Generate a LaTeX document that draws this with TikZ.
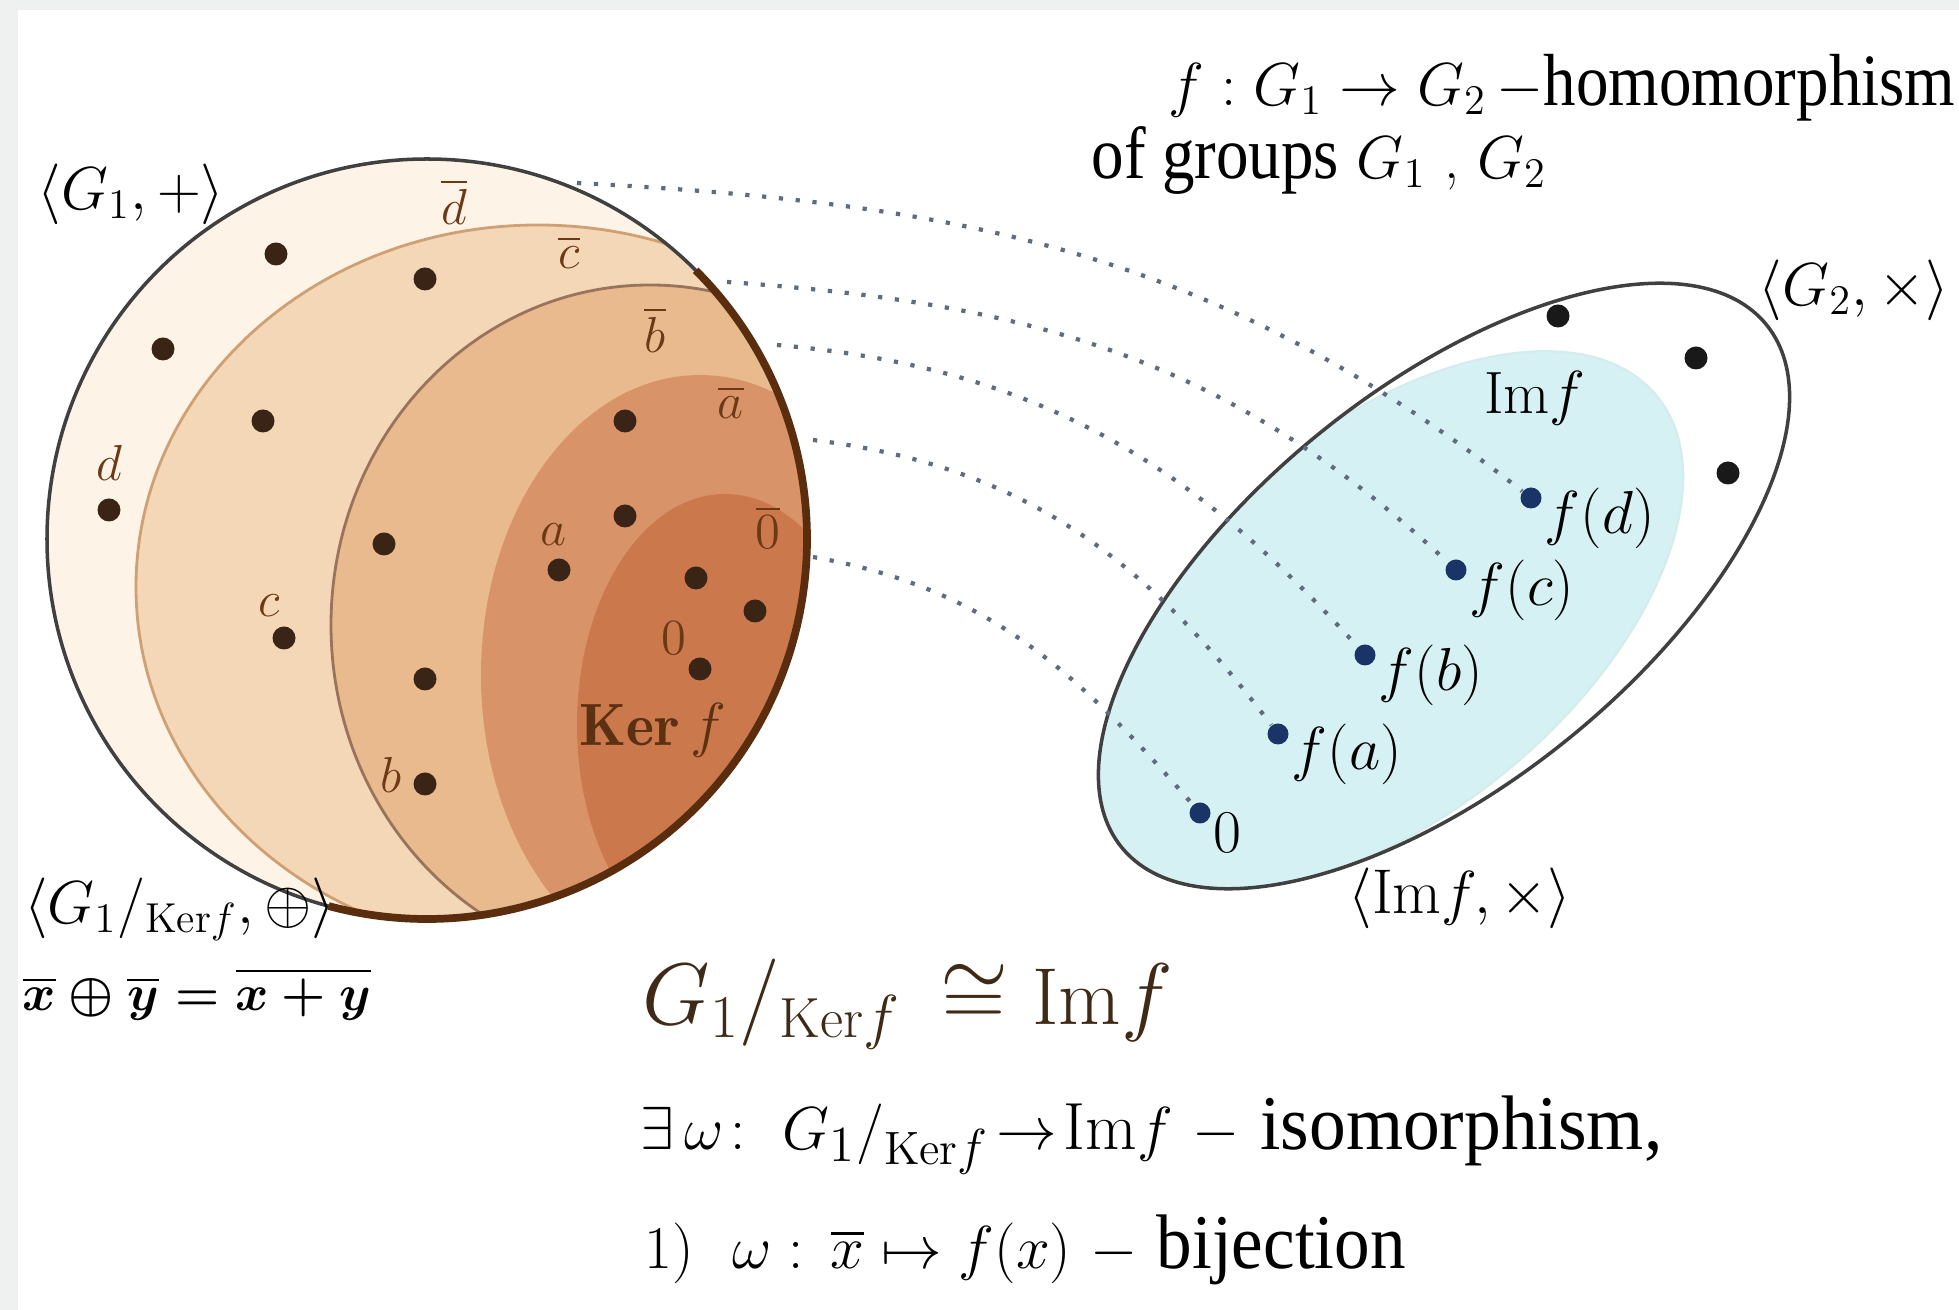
\documentclass[tikz,border=0pt]{standalone}
\usepackage{fontspec}
\usepackage{amsmath,amssymb}
\usepackage{graphicx}
\usetikzlibrary{positioning, calc}
\newfontfamily\timesfont{Liberation Serif}

\definecolor{GrpFrame}{RGB}{239,241,241}
\definecolor{GrpCream}{RGB}{253,243,230}
\definecolor{GrpPeach}{RGB}{244,215,182}
\definecolor{GrpTan}{RGB}{233,186,141}
\definecolor{GrpRust}{RGB}{216,148,104}
\definecolor{GrpKer}{RGB}{203,121,76}
\definecolor{GrpBrown}{RGB}{108,56,22}
\definecolor{GrpEdge}{RGB}{90,45,15}
\definecolor{GrpDot}{RGB}{58,36,22}
\definecolor{GrpCyan}{RGB}{214,241,244}
\definecolor{GrpNavy}{RGB}{26,52,104}
\definecolor{GrpLine}{RGB}{95,108,125}
\definecolor{GrpTitle}{RGB}{62,42,22}

\tikzset{
  gdot/.style={circle, fill=GrpDot, inner sep=0pt, minimum size=2.3mm},
  idot/.style={circle, fill=GrpNavy, inner sep=0pt, minimum size=2.1mm},
  kdot/.style={circle, fill=black!90, inner sep=0pt, minimum size=2.3mm},
  glab/.style={font=\fontsize{15}{15}\selectfont, text=GrpBrown, inner sep=1pt},
  ilab/.style={font=\fontsize{17}{17}\selectfont, inner sep=0pt, anchor=west,
               xshift=0.02cm, yshift=-0.2cm},
  setlab/.style={font=\fontsize{17}{19}\selectfont, inner sep=1pt},
  mapline/.style={GrpLine, line width=1.2pt, dash pattern=on 1.2pt off 3.6pt},
}

\begin{document}
\begin{tikzpicture}
  \useasboundingbox (0,0) rectangle (19.59,13.10);
  % ---- frame ----
  \fill[GrpFrame] (0,0) rectangle (19.59,13.10);
  \fill[white] (0.18,0) rectangle (19.59,13.00);

  % ---- G1 and its cosets ----
  \coordinate (G1c) at (4.27,7.71);
  \fill[GrpCream] (G1c) circle (3.80);
  \begin{scope}
    \clip (G1c) circle (3.80);
    \fill[GrpPeach] (5.38,7.23) ellipse (4.02 and 3.62);
    \draw[GrpTan!80!GrpBrown, line width=0.8pt] (5.38,7.23) ellipse (4.02 and 3.62);
    \fill[GrpTan] (6.50,6.85) ellipse (3.19 and 3.40);
    \draw[GrpBrown!70, line width=0.8pt] (6.50,6.85) ellipse (3.19 and 3.40);
    \fill[GrpRust] (7.00,6.35) ellipse (2.19 and 3.00);
    \fill[GrpKer] (7.25,5.85) ellipse (1.48 and 2.31);
  \end{scope}
  \draw[black!75, line width=1pt] (G1c) circle (3.80);
  % shaded rim
  \draw[GrpEdge, line width=2.2pt] ([shift={(45:3.80)}]G1c)
       arc[start angle=45, end angle=-105, radius=3.80];

  % elements of G1
  \foreach \x/\y [count=\i] in {2.76/10.56, 4.25/10.31, 1.63/9.61, 2.63/8.89,
                                1.09/8.00, 3.84/7.66, 2.84/6.72, 4.25/6.31,
                                4.25/5.26, 6.25/8.89, 6.25/7.94, 5.59/7.40,
                                6.96/7.32, 7.55/6.99, 7.00/6.41} {
    \node[gdot] (p\i) at (\x,\y) {};
  }
  % coset and element labels
  \node[glab] (lbd) at (4.54,11.08) {$\overline{d}$};
  \node[glab] (lbc) at (5.69,10.58) {$\overline{c}$};
  \node[glab] (lbb) at (6.55,9.80) {$\overline{b}$};
  \node[glab] (lba) at (7.31,9.08) {$\overline{a}$};
  \node[glab] (lb0) at (7.68,7.83) {$\overline{0}$};
  \node[glab] (ld) at (1.09,8.47) {$d$};
  \node[glab] (lc) at (2.69,7.04) {$c$};
  \node[glab] (la) at (5.54,7.75) {$a$};
  \node[glab] (l0) at (6.74,6.72) {$0$};
  \node[glab] (lb) at (3.91,5.35) {$b$};
  \node[font=\fontsize{17}{17}\selectfont, text=GrpBrown!85!black, inner sep=0pt]
       (ker) at (6.53,5.80) {$\mathbf{Ker}\,f$};

  \node[setlab] (G1) at (1.31,11.16) {$\langle G_1,+\rangle$};
  \node[setlab, anchor=west] (quot) at (0.20,4.01)
       {$\langle G_1/_{\mathrm{Ker}f},\oplus\rangle$};
  \node[anchor=west, font=\fontsize{15.5}{17}\selectfont\boldmath, inner sep=0pt]
       (oplus) at (0.22,3.16) {$\overline{x}\oplus\overline{y}=\overline{x+y}$};

  % ---- G2 and the image ----
  \coordinate (G2c) at (14.44,7.24);
  \coordinate (Imc) at (13.88,6.90);
  \fill[white, rotate around={39:(G2c)}] (G2c) ellipse (4.15 and 1.97);
  \begin{scope}
    \clip[rotate around={39:(G2c)}] (G2c) ellipse (4.15 and 1.97);
    \fill[GrpCyan, rotate around={40:(Imc)}] (Imc) ellipse (3.50 and 1.92);
    \draw[GrpCyan!70!teal!40, line width=0.6pt, rotate around={40:(Imc)}]
         (Imc) ellipse (3.50 and 1.92);
  \end{scope}
  \draw[black!75, line width=1pt, rotate around={39:(G2c)}] (G2c) ellipse (4.15 and 1.97);

  \foreach \x/\y [count=\i] in {15.58/9.94, 16.96/9.52, 17.28/8.37} {
    \node[kdot] (q\i) at (\x,\y) {};
  }
  \node[idot, label={[ilab]right:$f(d)$}] (fd) at (15.31,8.12) {};
  \node[idot, label={[ilab]right:$f(c)$}] (fc) at (14.56,7.40) {};
  \node[idot, label={[ilab]right:$f(b)$}] (fb) at (13.65,6.55) {};
  \node[idot, label={[ilab]right:$f(a)$}] (fa) at (12.78,5.76) {};
  \node[idot, label={[ilab]right:$0$}] (f0) at (12.00,4.97) {};

  \node[font=\fontsize{17}{17}\selectfont] (imf) at (15.35,9.12) {$\mathrm{Im}f$};
  \node[setlab] (G2) at (18.54,10.20) {$\langle G_2,\times\rangle$};
  \node[setlab, font=\fontsize{18}{20}\selectfont] (imx) at (14.60,4.12)
       {$\langle\mathrm{Im}f,\times\rangle$};

  % ---- f on the cosets ----
  \coordinate (sd) at (5.77,11.27);
  \coordinate (sc) at (7.27,10.28);
  \coordinate (sb) at (7.77,9.65);
  \coordinate (sa) at (8.13,8.70);
  \coordinate (s0) at (8.13,7.53);
  \draw[mapline] (sd) to[out=-3, in=142] (fd);
  \draw[mapline] (sc) to[out=-4, in=137] (fc);
  \draw[mapline] (sb) to[out=-5, in=132] (fb);
  \draw[mapline] (sa) to[out=-7, in=127] (fa);
  \draw[mapline] (s0) to[out=-10, in=131] (f0);

  % ---- texts ----
  \node[anchor=east, font=\fontsize{17}{19}\selectfont, inner sep=0pt] (hom)
       at (19.56,12.22) {$f:G_1\rightarrow G_2\,-$\timesfont\fontsize{21}{23}\selectfont\scalebox{0.88}[1]{homomorphism}};
  \node[anchor=west, font=\fontsize{17}{19}\selectfont, inner sep=0pt] (grp)
       at (10.91,11.50) {{\timesfont\fontsize{21}{23}\selectfont\scalebox{0.88}[1]{of groups}} $G_1$ , $G_2$};

  \node[anchor=west, font=\fontsize{23}{25}\selectfont, text=GrpTitle, inner sep=0pt]
       (iso) at (6.42,3.06) {$G_1/_{\mathrm{Ker}f}\,\cong\mathrm{Im}f$};
  \node[anchor=west, font=\fontsize{19}{21}\selectfont, inner sep=0pt]
       (omega) at (6.40,1.75) {$\exists\,\omega\!:\ G_1/_{\mathrm{Ker}f}\!\rightarrow\!\mathrm{Im}f\ -$
       {\timesfont\fontsize{22}{24}\selectfont\scalebox{0.95}[1]{isomorphism,}}};
  \node[anchor=west, font=\fontsize{18}{20}\selectfont, inner sep=0pt]
       (bij) at (6.44,0.60) {$1)\ \ \omega:\,\overline{x}\mapsto f(x)\ -$
       {\timesfont\fontsize{22}{24}\selectfont\scalebox{0.92}[1]{bijection}}};
\end{tikzpicture}
\end{document}
